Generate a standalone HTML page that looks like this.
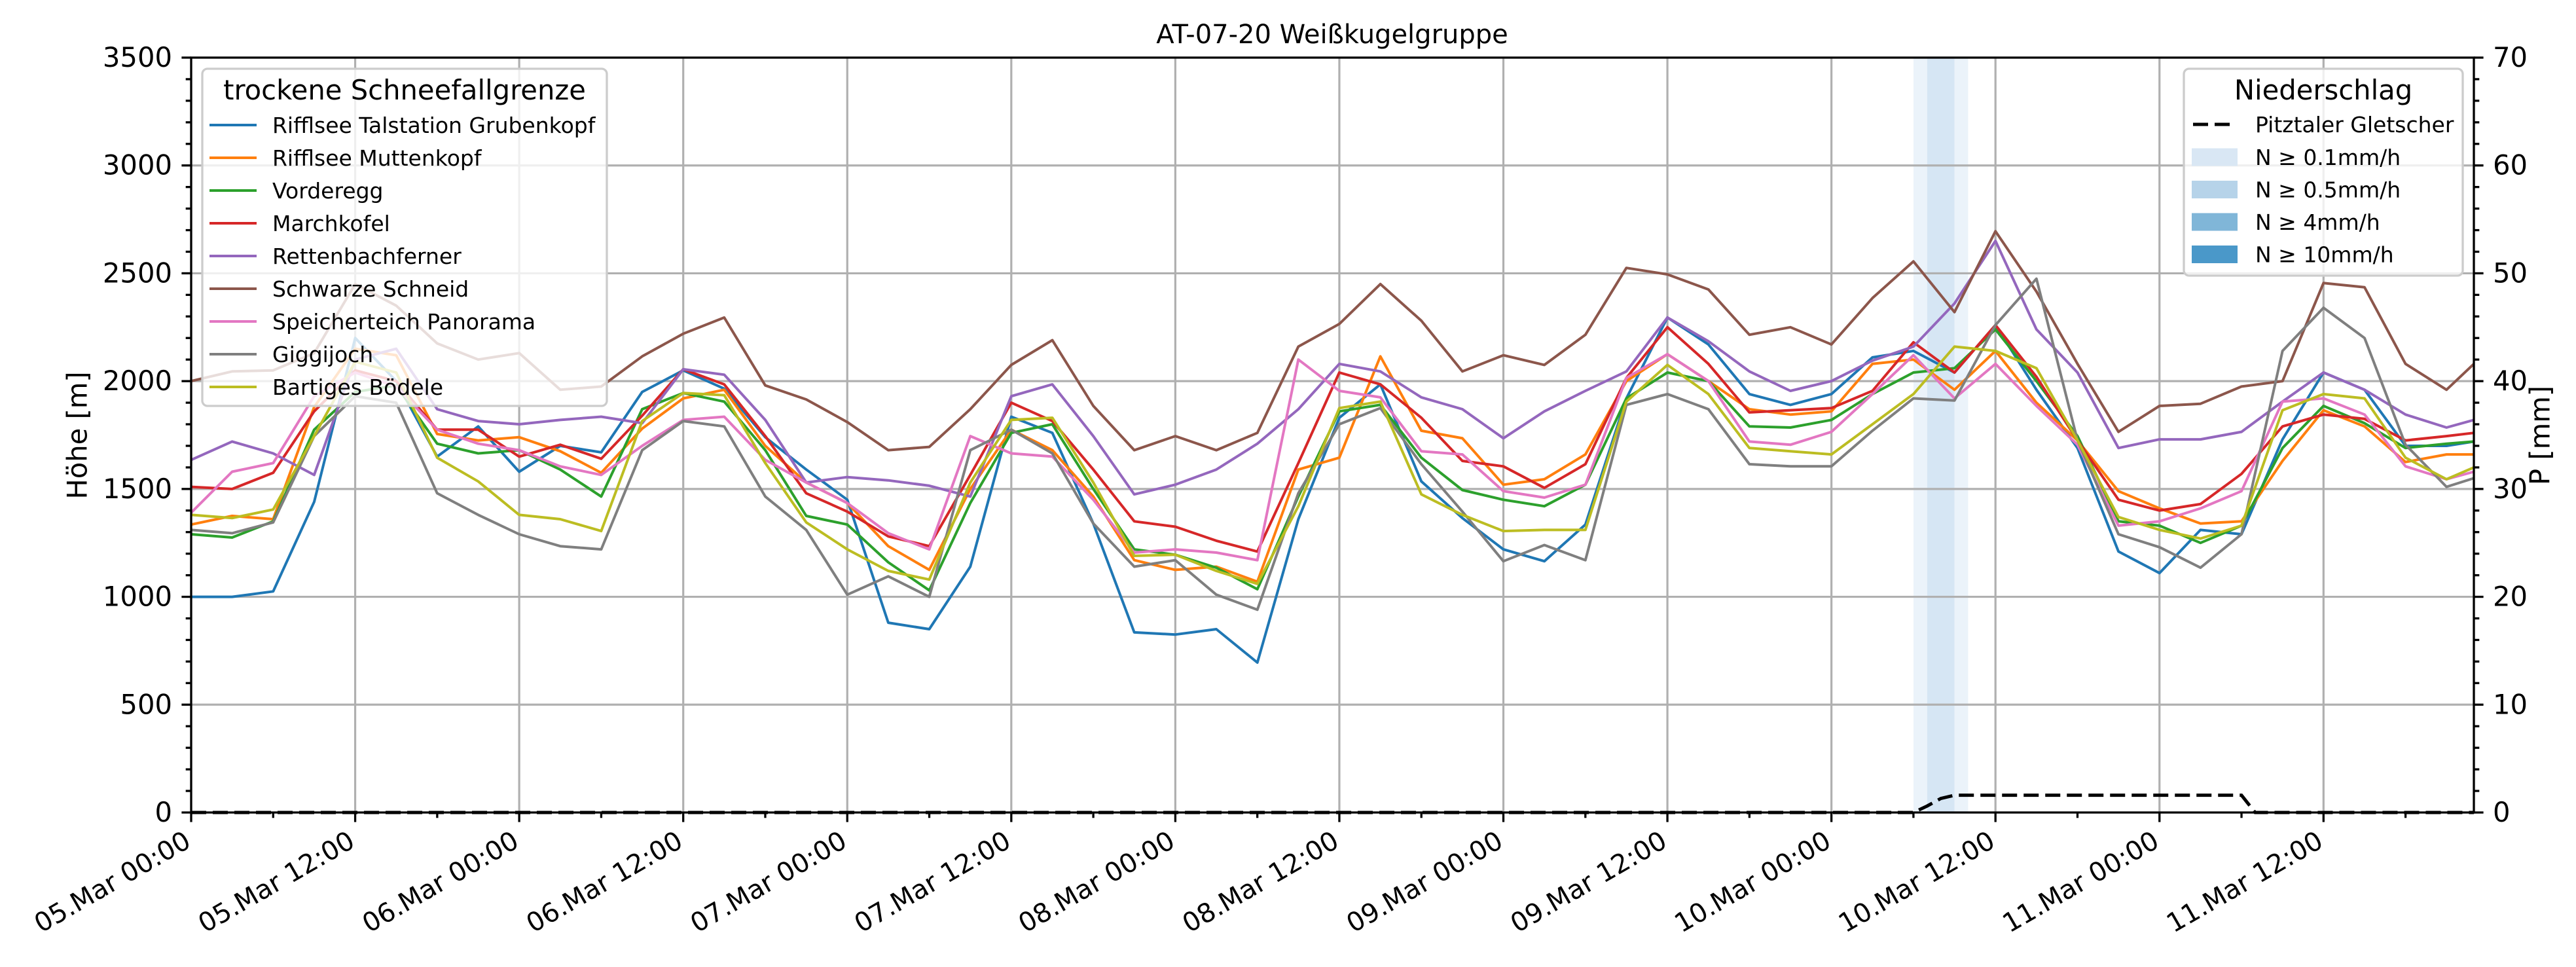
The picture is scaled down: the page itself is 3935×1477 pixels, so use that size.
<!DOCTYPE html>
<html><head><meta charset="utf-8"><style>
html,body{margin:0;padding:0;background:#fff}
svg{display:block;font-family:"DejaVu Sans","Liberation Sans",sans-serif}
</style></head><body>
<svg id="chart" xmlns="http://www.w3.org/2000/svg" width="3935" height="1477" viewBox="0 0 3935 1477">
<rect x="0" y="0" width="3935" height="1477" fill="#fff"/>
<g id="bands"></g><g id="grid"></g><g id="series"></g><g id="precip"></g><g id="axes"></g><g id="legends"></g>
</svg>
<script>
const hours=[0,3,6,9,12,15,18,21,24,27,30,33,36,39,42,45,48,51,54,57,60,63,66,69,72,75,78,81,84,87,90,93,96,99,102,105,108,111,114,117,120,123,126,129,132,135,138,141,144,147,150,153,156,159,162,165,167];
const stationNames=["Rifflsee Talstation Grubenkopf","Rifflsee Muttenkopf","Vorderegg","Marchkofel","Rettenbachferner","Schwarze Schneid","Speicherteich Panorama","Giggijoch","Bartiges Bödele"];
const sRifflseeTal=[1000,1000,1025,1440,2200,2000,1650,1790,1580,1700,1670,1950,2050,1965,1740,1590,1450,880,850,1140,1835,1760,1340,835,825,850,695,1360,1830,1985,1535,1365,1220,1165,1335,1920,2295,2170,1940,1890,1940,2110,2140,2040,2260,1960,1690,1210,1110,1310,1290,1730,2040,1960,1700,1700,1720];
const sRifflseeMutten=[1335,1375,1360,1880,2150,2120,1755,1725,1740,1675,1575,1780,1920,1960,1700,1530,1435,1235,1125,1500,1775,1680,1465,1170,1125,1140,1070,1590,1645,2115,1770,1735,1520,1545,1660,2000,2125,2000,1870,1845,1860,2080,2100,1960,2140,1900,1725,1490,1410,1340,1350,1630,1865,1790,1625,1660,1660];
const sVorderegg=[1290,1275,1350,1775,1950,1980,1710,1665,1680,1590,1465,1870,1945,1905,1680,1375,1335,1160,1030,1435,1760,1800,1500,1220,1195,1135,1035,1465,1860,1890,1645,1495,1450,1420,1520,1920,2040,2000,1790,1785,1820,1940,2040,2060,2240,2000,1745,1350,1330,1250,1330,1690,1885,1805,1690,1710,1720];
const sMarchkofel=[1510,1500,1575,1860,2050,2000,1775,1775,1650,1705,1640,1840,2055,1985,1745,1480,1395,1280,1235,1565,1900,1815,1590,1350,1325,1260,1210,1620,2040,1985,1830,1630,1605,1505,1615,2015,2250,2080,1855,1865,1875,1955,2180,2040,2260,2020,1725,1450,1400,1430,1570,1790,1845,1825,1725,1745,1760];
const sRettenbach=[1635,1720,1665,1565,2100,2150,1870,1815,1800,1820,1835,1805,2055,2030,1820,1530,1555,1540,1515,1465,1930,1985,1745,1475,1520,1590,1710,1870,2080,2045,1925,1870,1735,1860,1955,2045,2295,2185,2045,1955,2000,2095,2160,2360,2650,2240,2040,1690,1730,1730,1765,1905,2040,1960,1845,1785,1820];
const sSchwarze=[2000,2045,2050,2130,2450,2350,2175,2100,2130,1960,1975,2115,2220,2295,1980,1915,1810,1680,1695,1870,2075,2190,1885,1680,1745,1680,1760,2160,2265,2450,2280,2045,2120,2075,2215,2525,2495,2425,2215,2250,2170,2385,2555,2320,2695,2415,2080,1765,1885,1895,1975,2000,2455,2435,2080,1960,2080];
const sSpeicher=[1390,1580,1620,1930,2040,1975,1775,1710,1680,1605,1565,1700,1820,1835,1635,1530,1435,1295,1220,1745,1665,1650,1450,1205,1220,1205,1170,2100,1955,1925,1675,1660,1490,1460,1520,2015,2125,2000,1720,1705,1765,1940,2120,1920,2080,1885,1705,1330,1350,1410,1490,1905,1920,1845,1605,1545,1580];
const sGiggijoch=[1310,1295,1345,1745,1930,1900,1480,1380,1290,1235,1220,1680,1815,1790,1465,1310,1010,1095,1000,1680,1775,1665,1340,1140,1170,1010,940,1480,1800,1875,1615,1395,1165,1240,1170,1890,1940,1870,1615,1605,1605,1770,1920,1910,2260,2475,1725,1290,1230,1135,1290,2140,2340,2200,1705,1510,1550];
const sBartiges=[1380,1365,1405,1745,2090,2040,1645,1535,1380,1360,1305,1815,1945,1935,1620,1345,1220,1120,1080,1530,1820,1830,1530,1190,1195,1120,1060,1420,1875,1905,1475,1380,1305,1310,1310,1905,2075,1940,1690,1675,1660,1800,1940,2160,2140,2060,1725,1370,1310,1270,1330,1865,1940,1920,1645,1545,1600];
const precipHours=[0,126,127,128,129,150,151,167];
const precipValues=[0,0,0.6,1.3,1.6,1.6,0,0];
const bandLightStart=[126,129];
const bandLightEnd=[127,130];
const bandDarkStart=[127];
const bandDarkEnd=[129];
const yTicks=[0,500,1000,1500,2000,2500,3000,3500];
const y2Ticks=[0,10,20,30,40,50,60,70];
const xTickHours=[0,12,24,36,48,60,72,84,96,108,120,132,144,156];
const xTickLabels=["05.Mar 00:00","05.Mar 12:00","06.Mar 00:00","06.Mar 12:00","07.Mar 00:00","07.Mar 12:00","08.Mar 00:00","08.Mar 12:00","09.Mar 00:00","09.Mar 12:00","10.Mar 00:00","10.Mar 12:00","11.Mar 00:00","11.Mar 12:00"];

const NS="http://www.w3.org/2000/svg";
const L=292,R=3779,T=88,B=1241,HMAX=167;
function xs(h){return L+h*(R-L)/HMAX;}
function ys(v){return B-v*(B-T)/3500;}
function ys2(p){return B-p*(B-T)/70;}
function mk(tag,attrs,parent){const e=document.createElementNS(NS,tag);for(const k in attrs)e.setAttribute(k,attrs[k]);parent.appendChild(e);return e;}
const colors=["#1f77b4","#ff7f0e","#2ca02c","#d62728","#9467bd","#8c564b","#e377c2","#7f7f7f","#bcbd22"];
const allSeries=[sRifflseeTal,sRifflseeMutten,sVorderegg,sMarchkofel,sRettenbach,sSchwarze,sSpeicher,sGiggijoch,sBartiges];
const gB=document.getElementById('bands'),gG=document.getElementById('grid'),gS=document.getElementById('series'),gP=document.getElementById('precip'),gA=document.getElementById('axes'),gL=document.getElementById('legends');

bandLightStart.forEach((s,i)=>{const r=mk('rect',{x:xs(s),y:T,width:xs(bandLightEnd[i])-xs(s),height:B-T,fill:'#ebf3fa'},gB);

});
bandDarkStart.forEach((s,i)=>{const r=mk('rect',{x:xs(s),y:T,width:xs(bandDarkEnd[i])-xs(s),height:B-T,fill:'#d6e6f4'},gB);

});

yTicks.forEach(v=>{if(v>0&&v<3500){const l=mk('line',{x1:L,x2:R,y1:ys(v),y2:ys(v),stroke:'#b0b0b0','stroke-width':3.2},gG);

}});
xTickHours.forEach(h=>{if(h>0){const l=mk('line',{x1:xs(h),x2:xs(h),y1:T,y2:B,stroke:'#b0b0b0','stroke-width':3.2},gG);

}});

allSeries.forEach((s,i)=>{const pts=s.map((v,j)=>xs(hours[j]).toFixed(1)+','+ys(v).toFixed(1)).join(' ');
const p=mk('polyline',{points:pts,fill:'none',stroke:colors[i],'stroke-width':4,'stroke-linejoin':'round'},gS);

});

const pp=mk('polyline',{points:precipValues.map((v,j)=>xs(precipHours[j]).toFixed(1)+','+ys2(v).toFixed(1)).join(' '),fill:'none',stroke:'#000','stroke-width':5,'stroke-dasharray':'23,10'},gP);



// axes frame
const fr=mk('rect',{x:L,y:T,width:R-L,height:B-T,fill:'none',stroke:'#000','stroke-width':3.3},gA);


for(let v=0;v<=3500;v+=100){const major=v%500===0;mk('line',{x1:L,x2:L-(major?14.6:8.3),y1:ys(v),y2:ys(v),stroke:'#000','stroke-width':3.3},gA);}
yTicks.forEach(v=>{const t=mk('text',{x:263,y:ys(v)+14,'text-anchor':'end','font-size':41.7,fill:'#000'},gA);t.textContent=v;

});
for(let p=0;p<=70;p+=2){const major=p%10===0;mk('line',{x1:R,x2:R+(major?14.6:8.3),y1:ys2(p),y2:ys2(p),stroke:'#000','stroke-width':3.3},gA);}
y2Ticks.forEach(p=>{const t=mk('text',{x:3808,y:ys2(p)+14,'text-anchor':'start','font-size':41.7,fill:'#000'},gA);t.textContent=p;

});
for(let h=0;h<=HMAX;h+=6){const major=h%12===0;mk('line',{x1:xs(h),x2:xs(h),y1:B,y2:B+(major?14.6:8.3),stroke:'#000','stroke-width':3.3},gA);}
xTickHours.forEach((h,i)=>{const t=mk('text',{transform:'translate('+(xs(h)+2)+',1292) rotate(-30)','text-anchor':'end','font-size':40,fill:'#000'},gA);t.textContent=xTickLabels[i];

});

// legend 1
const lg1=mk('g',{},gL);


mk('rect',{x:309,y:105,width:618,height:515,rx:8,fill:'#fff','fill-opacity':0.8,stroke:'#cccccc','stroke-width':3.3},lg1);
const t1=mk('text',{x:618,y:152,'text-anchor':'middle','font-size':41.7,fill:'#000'},lg1);t1.textContent='trockene Schneefallgrenze';


stationNames.forEach((n,i)=>{const cy=191+i*50;
const e=mk('g',{},lg1);


mk('line',{x1:320,x2:392,y1:cy,y2:cy,stroke:colors[i],'stroke-width':4},e);
const t=mk('text',{x:416,y:cy+12,'font-size':33,fill:'#000'},e);t.textContent=n;});

// legend 2
const lg2=mk('g',{},gL);


mk('rect',{x:3336,y:105,width:426,height:316,rx:8,fill:'#fff','fill-opacity':0.8,stroke:'#cccccc','stroke-width':3.3},lg2);
const t2=mk('text',{x:3549,y:152,'text-anchor':'middle','font-size':41.7,fill:'#000'},lg2);t2.textContent='Niederschlag';


const e0=mk('g',{},lg2);


mk('line',{x1:3350,x2:3406,y1:190,y2:190,stroke:'#000','stroke-width':5,'stroke-dasharray':'23,10'},e0);
const te=mk('text',{x:3445,y:202,'font-size':33,fill:'#000'},e0);te.textContent='Pitztaler Gletscher';
const patchColors=['#d9e7f4','#b6d3e9','#80b6d8','#4a98c9'];
const patchLabels=['N ≥ 0.1mm/h','N ≥ 0.5mm/h','N ≥ 4mm/h','N ≥ 10mm/h'];
patchLabels.forEach((lab,i)=>{const cy=240+i*49.5;
const e=mk('g',{},lg2);


mk('rect',{x:3348,y:cy-13.5,width:70,height:27,fill:patchColors[i]},e);
const t=mk('text',{x:3445,y:cy+12,'font-size':33,fill:'#000'},e);t.textContent=lab;});
</script>
<svg width="0" height="0" style="position:absolute"></svg>
<div style="position:absolute;left:0;top:0;width:3935px;height:1477px;pointer-events:none">
<div style="position:absolute;left:0;width:4070px;top:30px;text-align:center;font:40px 'DejaVu Sans',sans-serif;color:#000">AT-07-20 Weißkugelgruppe</div>
<div style="position:absolute;left:118px;top:665px;transform:translate(-50%,-50%) rotate(-90deg);white-space:nowrap;font:41.7px 'DejaVu Sans',sans-serif;color:#000">Höhe [m]</div>
<div style="position:absolute;left:3880px;top:665px;transform:translate(-50%,-50%) rotate(-90deg);white-space:nowrap;font:41.7px 'DejaVu Sans',sans-serif;color:#000">P [mm]</div>
</div>
</body></html>
